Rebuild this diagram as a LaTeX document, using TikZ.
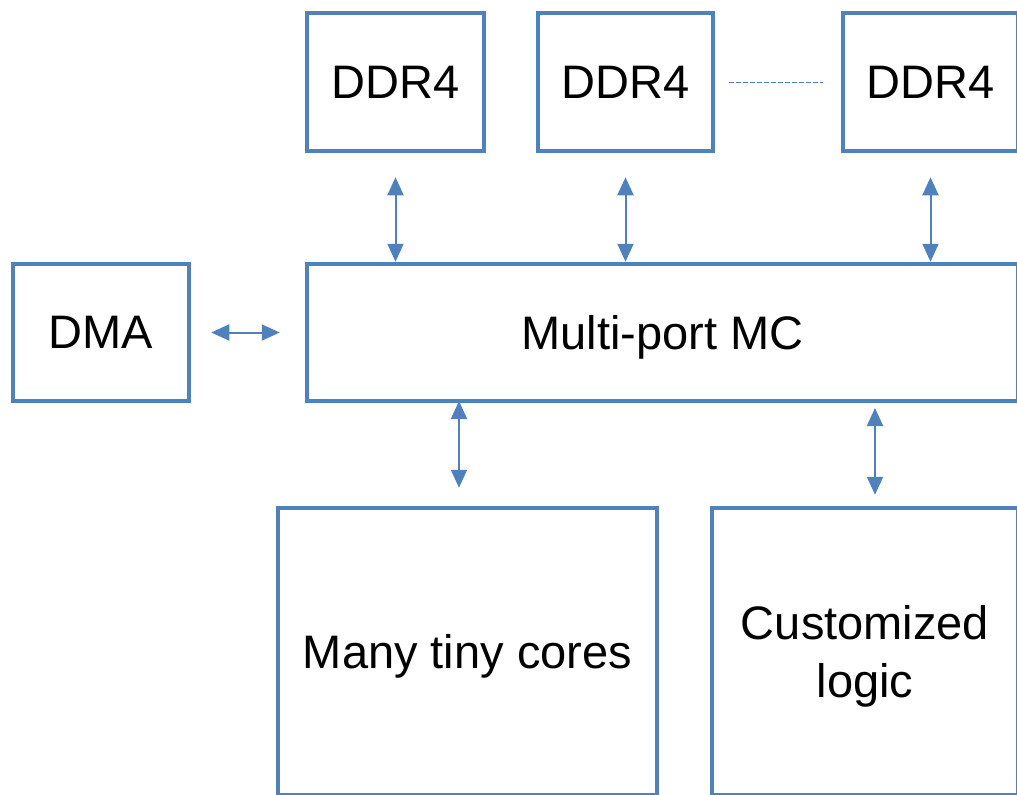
\documentclass[tikz,border=0pt]{standalone}
\usepackage{fontspec}
\setmainfont{Liberation Sans}
\usepackage{xcolor}
\usetikzlibrary{arrows.meta}

\definecolor{boxblue}{HTML}{4F81BD}

\tikzset{
  blockbox/.style={draw=boxblue, line width=2.25pt, fill=white, align=center,
    inner sep=0pt, text depth=0pt, font=\fontsize{23.5}{29}\selectfont},
  biarrow/.style={draw=boxblue, line width=1pt,
    {Triangle[length=9pt,width=8pt]}-{Triangle[length=9pt,width=8pt]}},
}

\begin{document}
\begin{tikzpicture}[x=0.5pt, y=-0.5pt]
  \useasboundingbox (0,0) rectangle (1017,794);
  \clip (0,0) rectangle (1017,794);

  % memory channels
  \node[blockbox, minimum width=88.5pt, minimum height=69pt] (ddrA) at (395.5,82) {DDR4};
  \node[blockbox, minimum width=87.5pt, minimum height=69pt] (ddrB) at (625.5,82) {DDR4};
  \node[blockbox, minimum width=87.5pt, minimum height=69pt] (ddrC) at (930.5,82) {DDR4};

  % controller and DMA
  \node[blockbox, minimum width=88pt, minimum height=68.5pt] (dma) at (101,332.5) {DMA};
  \node[blockbox, minimum width=355.5pt, minimum height=68.5pt] (mc) at (662.5,332.5) {Multi-port MC};

  % compute blocks
  \node[blockbox, minimum width=189.5pt, minimum height=143.5pt] (cores) at (467.5,651.5) {Many tiny cores};
  \node[blockbox, minimum width=153pt, minimum height=143.5pt] (logic) at (865,651.5) {Customized\\logic};

  % links
  \draw[draw=boxblue, line width=0.5pt, dash pattern=on 2.5pt off 1pt,
    shorten <=7pt, shorten >=9pt] (ddrB.east) -- (ddrC.west);
  \foreach \d in {ddrA,ddrB,ddrC}
    \draw[biarrow, shorten <=12pt] (\d.south) -- (\d.south |- mc.north);
  \draw[biarrow, shorten <=10pt, shorten >=12.5pt] (dma.east) -- (mc.west);

  \coordinate (mcA) at (459,401);
  \coordinate (mcB) at (875,401);
  \draw[biarrow, shorten >=9pt] (mcA) -- (mcA |- cores.north);
  \draw[biarrow, shorten <=3.5pt, shorten >=5.5pt] (mcB) -- (mcB |- logic.north);
\end{tikzpicture}
\end{document}
